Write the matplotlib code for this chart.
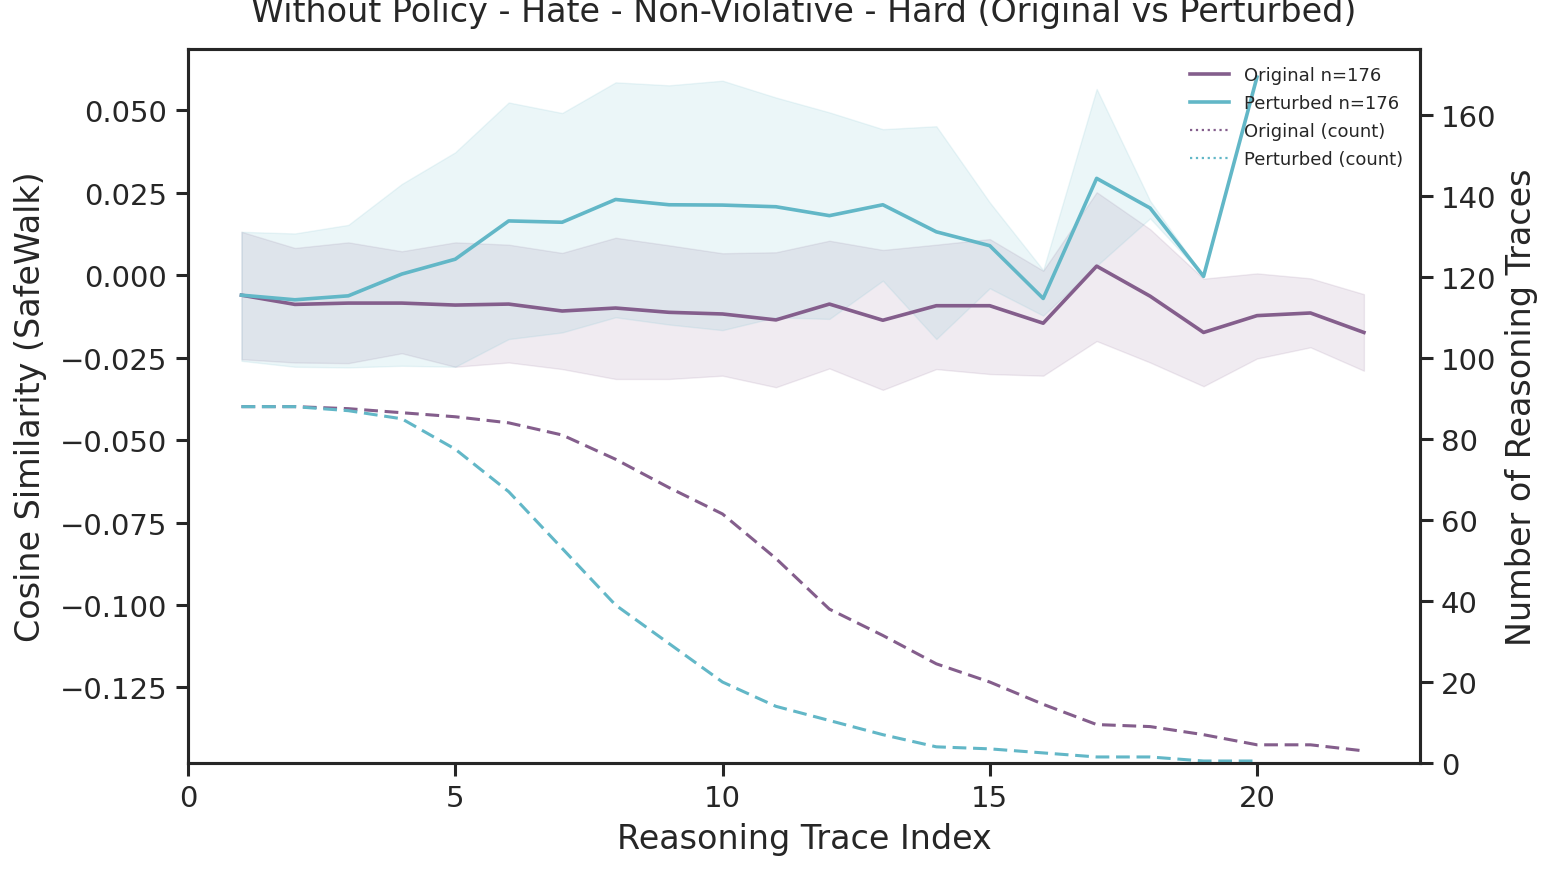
import matplotlib
matplotlib.use('Agg')
import matplotlib.pyplot as plt
from matplotlib.lines import Line2D

plt.rcParams['font.family'] = ['DejaVu Sans']
plt.rcParams['text.color'] = '#262626'
plt.rcParams['axes.labelcolor'] = '#262626'
plt.rcParams['xtick.color'] = '#262626'
plt.rcParams['ytick.color'] = '#262626'

purple = '#845e8c'
cyan = '#62b7c7'

# trace index
idx_orig = list(range(1, 23))
idx_pert = list(range(1, 21))
idx_pert_ci = list(range(1, 20))

# mean cosine similarity
orig_mean = [-0.0061, -0.0089, -0.0085, -0.0085, -0.0091, -0.0088, -0.0109, -0.0100,
             -0.0113, -0.0118, -0.0136, -0.0088, -0.0137, -0.0093, -0.0093, -0.0146,
             0.0027, -0.0064, -0.0174, -0.0123, -0.0115, -0.0174]
pert_mean = [-0.0061, -0.0075, -0.0063, 0.0003, 0.0048, 0.0164, 0.0160, 0.0229,
             0.0213, 0.0212, 0.0207, 0.0180, 0.0213, 0.0131, 0.0089, -0.0071,
             0.0293, 0.0203, -0.0004, 0.0600]

# confidence bands
orig_lo = [-0.0255, -0.0265, -0.0267, -0.0237, -0.0278, -0.0265, -0.0285, -0.0315,
           -0.0315, -0.0305, -0.0340, -0.0283, -0.0348, -0.0285, -0.0300, -0.0305,
           -0.0200, -0.0265, -0.0337, -0.0253, -0.0219, -0.0290]
orig_hi = [0.0131, 0.0082, 0.0099, 0.0072, 0.0099, 0.0092, 0.0067, 0.0113,
           0.0090, 0.0066, 0.0069, 0.0104, 0.0076, 0.0092, 0.0109, 0.0013,
           0.0251, 0.0139, -0.0011, 0.0005, -0.0010, -0.0058]
pert_lo = [-0.0260, -0.0278, -0.0280, -0.0275, -0.0278, -0.0194, -0.0174, -0.0128,
           -0.0150, -0.0167, -0.0128, -0.0133, -0.0017, -0.0194, -0.0040, -0.0123,
           0.0028, 0.0172, -0.0004]
pert_hi = [0.0131, 0.0126, 0.0152, 0.0276, 0.0372, 0.0523, 0.0491, 0.0584,
           0.0575, 0.0589, 0.0538, 0.0493, 0.0442, 0.0451, 0.0220, 0.0015,
           0.0564, 0.0225, -0.0004]

# number of traces per index
orig_count = [88, 88, 87.5, 86.5, 85.5, 84, 81, 75, 68, 61.5, 50.5, 38, 31.5, 24.5,
              20, 14.5, 9.5, 9, 7, 4.5, 4.5, 3]
pert_count = [88, 88, 87, 85, 77.5, 67, 53, 39, 29.5, 20, 14, 10.5, 7, 4, 3.5, 2.5,
              1.5, 1.5, 0.5, 0.5]

fig = plt.figure(figsize=(15.55, 8.7), dpi=100)
ax = fig.add_axes([0.1209, 0.1218, 0.7923, 0.8207])
ax2 = ax.twinx()

ax.fill_between(idx_orig, orig_lo, orig_hi, color=purple, alpha=0.12)
ax.fill_between(idx_pert_ci, pert_lo, pert_hi, color=cyan, alpha=0.12)
ax.plot(idx_orig, orig_mean, color=purple, lw=2.6)
ax.plot(idx_pert, pert_mean, color=cyan, lw=2.6)

ax2.plot(idx_orig, orig_count, color=purple, lw=2.2, ls=(0, (4.5, 2.2)))
ax2.plot(idx_pert, pert_count, color=cyan, lw=2.2, ls=(0, (4.5, 2.2)))

ax.set_xlim(0, 23.05)
ax.set_ylim(-0.1479, 0.0685)
ax2.set_ylim(0, 176.3)
ax.set_xticks([0, 5, 10, 15, 20])
ax.set_yticks([-0.125, -0.1, -0.075, -0.05, -0.025, 0, 0.025, 0.05])
ax2.set_yticks([0, 20, 40, 60, 80, 100, 120, 140, 160])

for a in (ax, ax2):
    for s in a.spines.values():
        s.set_linewidth(2.2)
        s.set_color('#262626')
    a.tick_params(labelsize=21, length=9, width=2.2, pad=6)

ax.set_xlabel('Reasoning Trace Index', fontsize=24, labelpad=7)
ax.set_ylabel('Cosine Similarity (SafeWalk)', fontsize=24, labelpad=9)
ax2.set_ylabel('Number of Reasoning Traces', fontsize=24, labelpad=6)
# title sits high, partly above the figure edge, as in the source image
ax.set_title('Without Policy - Hate - Non-Violative - Hard (Original vs Perturbed)',
             fontsize=24, pad=20)

handles = [Line2D([], [], color=purple, lw=2.6),
           Line2D([], [], color=cyan, lw=2.6),
           Line2D([], [], color=purple, lw=1.6, ls=':'),
           Line2D([], [], color=cyan, lw=1.6, ls=':')]
labels = ['Original n=176', 'Perturbed n=176', 'Original (count)', 'Perturbed (count)']
ax2.legend(handles, labels, loc='upper right', fontsize=13, frameon=False,
           handlelength=2.2, labelspacing=0.55, borderaxespad=0.55)

fig.savefig('out.png', dpi=100)
